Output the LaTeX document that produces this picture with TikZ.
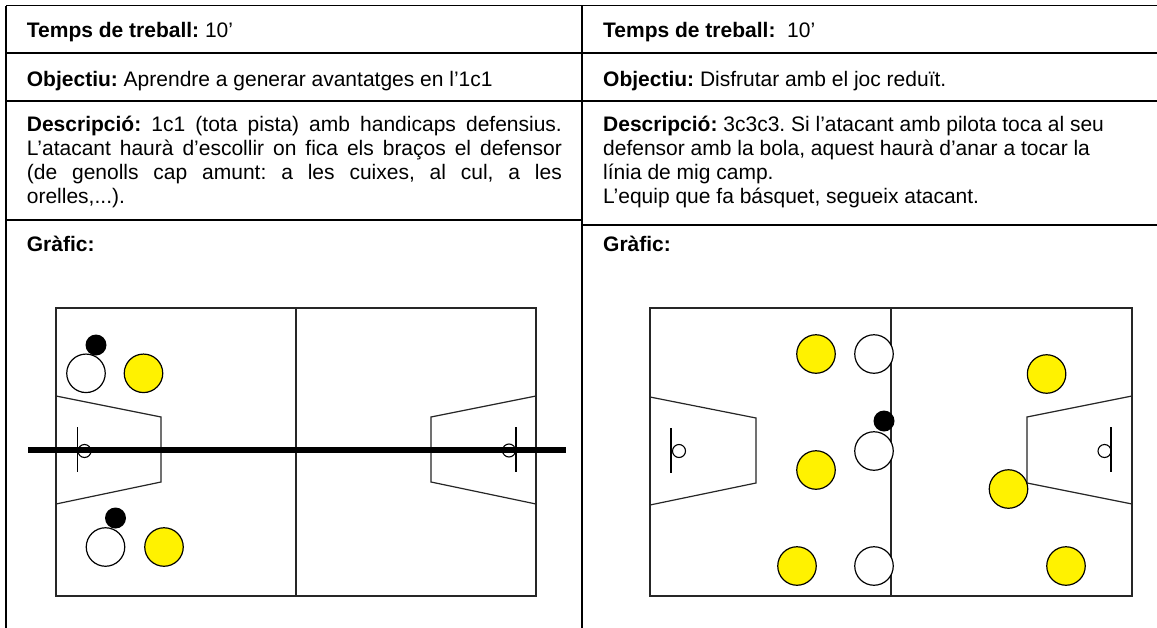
\documentclass[tikz,border=0pt]{standalone}
\usepackage{fontspec}
\setmainfont{Liberation Sans}
\frenchspacing
\begin{document}
\begin{tikzpicture}[x=1pt,y=-1pt,
  tbl/.style={line width=1.6pt, draw=black},
  court/.style={line width=1.2pt, draw=black!85},
  board/.style={line width=1.6pt, draw=black},
  hoop/.style={circle, draw=black, line width=1.1pt, minimum size=13pt, inner sep=0pt},
  attk/.style={circle, draw=black, line width=1.2pt, fill=white, minimum size=38.5pt, inner sep=0pt},
  dfn/.style={circle, draw=black, line width=1.2pt, fill=yellow, minimum size=38.5pt, inner sep=0pt},
  ball/.style={circle, fill=black, minimum size=21pt, inner sep=0pt},
  txt/.style={anchor=base west, inner sep=0pt, font=\fontsize{21}{24.15}\selectfont}]
\useasboundingbox (0,0) rectangle (1157,627);
\fill[white] (0,0) rectangle (1157,627);
% ---------- table ----------
\draw[tbl] (6,5.5) -- (1160,5.5);
\draw[tbl] (6,5.5) -- (6,630);
\draw[tbl] (582,5.5) -- (582,630);
\draw[tbl] (6,53) -- (1160,53);
\draw[tbl] (6,101) -- (1160,101);
\draw[tbl] (6,220) -- (582,220);
\draw[tbl] (582,225) -- (1160,225);
% ---------- texts left ----------
\node[txt] (tl) at (26.7,37) {\textbf{Temps de treball:} 10’};
\node[txt] (ol) at (26.7,86) {\textbf{Objectiu:} Aprendre a generar avantatges en l’1c1};
\node[txt] (dl) at (26.7,131) {\parbox[t]{535pt}{\fontsize{21}{24.15}\selectfont\frenchspacing
  \textbf{Descripció:} 1c1 (tota pista) amb handicaps defensius.\linebreak
  L’atacant haurà d’escollir on fica els braços el defensor\linebreak
  (de genolls cap amunt: a les cuixes, al cul, a les\linebreak
  orelles,...).}};
\node[txt] (gl) at (26.7,251) {\textbf{Gràfic:}};
% ---------- texts right ----------
\node[txt] (tr) at (603,37) {\textbf{Temps de treball:}\ \ 10’};
\node[txt] (or) at (603,86) {\textbf{Objectiu:} Disfrutar amb el joc reduït.};
\node[txt] (dr) at (603,131) {\parbox[t]{540pt}{\fontsize{21}{24.15}\selectfont\frenchspacing\raggedright
  \textbf{Descripció:} 3c3c3. Si l’atacant amb pilota toca al seu\\
  defensor amb la bola, aquest haurà d’anar a tocar la\\
  línia de mig camp.\\
  L’equip que fa básquet, segueix atacant.}};
\node[txt] (gr) at (603,251) {\textbf{Gràfic:}};
% ---------- left court ----------
\draw[court] (56,308) rectangle (536,596);
\draw[court] (296,308) -- (296,596);
\draw[court] (56,396) -- (161,417) -- (161,482) -- (56,504);
\draw[court] (536,396) -- (431,417) -- (431,482) -- (536,504);
\draw[board] (77.5,427) -- (77.5,472);
\node[hoop] (h1) at (84.5,451) {};
\draw[board] (516,427) -- (516,472);
\node[hoop] (h2) at (509,450.5) {};
\draw[line width=6pt] (28,450) -- (566,450);
\node[ball] (b1) at (96,345) {};
\node[attk] (a1) at (86,373.3) {};
\node[dfn] (d1) at (143.5,373.3) {};
\node[ball] (b2) at (115.5,518) {};
\node[attk] (a2) at (105.5,547) {};
\node[dfn] (d2) at (164,547) {};
% ---------- right court ----------
\draw[court] (650,308) rectangle (1132,596);
\draw[court] (891,308) -- (891,596);
\draw[court] (650,397) -- (756,418) -- (756,483) -- (650,505);
\draw[court] (1132,396) -- (1027,417) -- (1027,483) -- (1132,504);
\draw[board] (671,428) -- (671,473);
\node[hoop] (h3) at (679,451) {};
\draw[board] (1111,427) -- (1111,472);
\node[hoop] (h4) at (1104.5,451) {};
\node[dfn] (y1) at (816,354) {};
\node[dfn] (y2) at (816,470) {};
\node[dfn] (y3) at (797,566) {};
\node[dfn] (y4) at (1046.6,374) {};
\node[dfn] (y5) at (1008.5,489) {};
\node[dfn] (y6) at (1066,566) {};
\node[attk] (w1) at (874,354) {};
\node[attk] (w2) at (874,451) {};
\node[attk] (w3) at (874,566) {};
\node[ball] (b3) at (884,421) {};
\end{tikzpicture}
\end{document}
